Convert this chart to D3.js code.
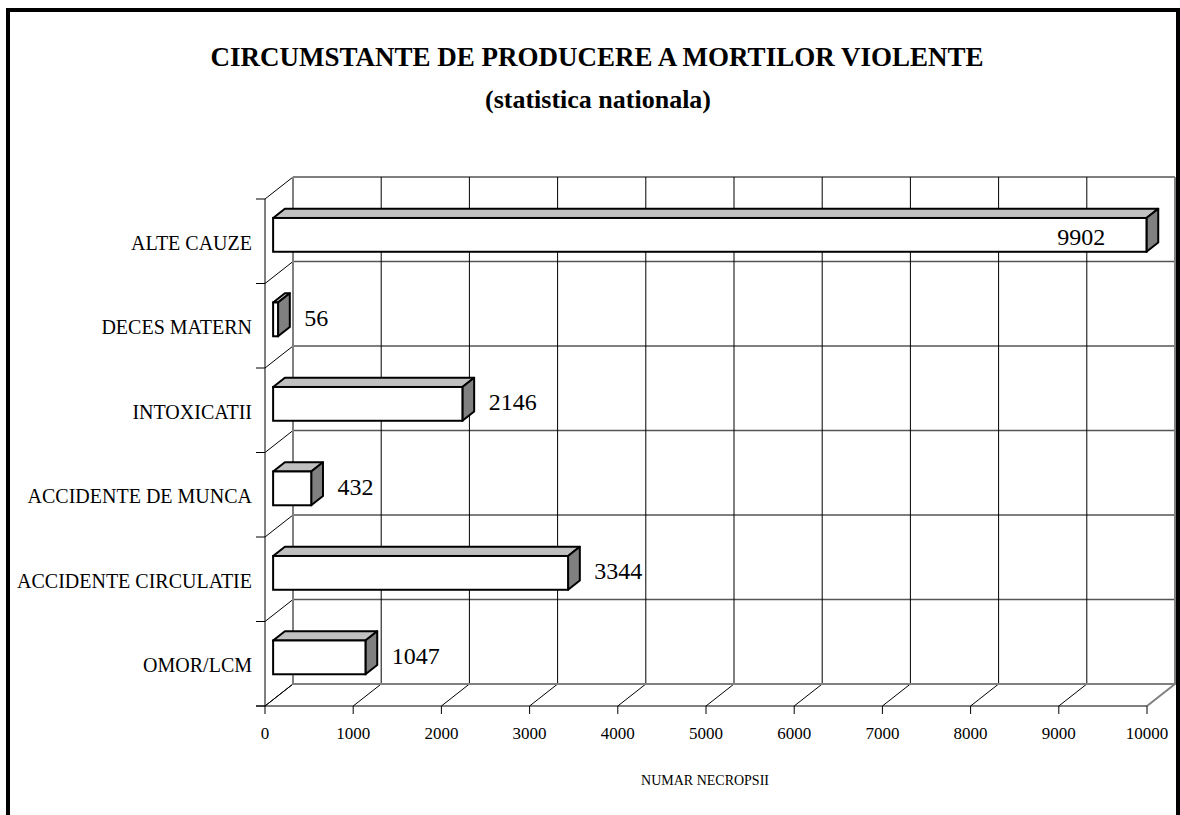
<!DOCTYPE html>
<html>
<head>
<meta charset="utf-8">
<script src="https://cdn.jsdelivr.net/npm/d3@7"></script>
<style>
  body { margin: 0; background: #fff; }
  svg text { font-family: "Liberation Serif", "Times New Roman", "DejaVu Serif", serif; fill: #000; }
</style>
</head>
<body>
<script>
// categories bottom -> top, as in the chart
const categories = ["OMOR/LCM", "ACCIDENTE CIRCULATIE", "ACCIDENTE DE MUNCA", "INTOXICATII", "DECES MATERN", "ALTE CAUZE"];
const values = [1047, 3344, 432, 2146, 56, 9902];
const xTicks = [0, 1000, 2000, 3000, 4000, 5000, 6000, 7000, 8000, 9000, 10000];

const titleText = "CIRCUMSTANTE DE PRODUCERE A MORTILOR VIOLENTE";
const subtitleText = "(statistica nationala)";
const xAxisTitle = "NUMAR NECROPSII";

const serif = "'Liberation Serif', 'Times New Roman', 'DejaVu Serif', serif";

//---- drawing parameters
const W = 1180, H = 815;
const DX = 28, DY = -22;      // 3d depth of the plot box
const f0 = 0.29, f1 = 0.71;   // where the bars sit inside that depth
const barFrac = 0.4;          // bar thickness vs band

const svg = d3.select("body").append("svg")
  .attr("width", W)
  .attr("height", H);

// outer frame
svg.append("rect")
  .attr("x", 8).attr("y", 10)
  .attr("width", 1170).attr("height", 830)
  .attr("fill", "#fff")
  .attr("stroke", "#000")
  .attr("stroke-width", 4);

const x = d3.scaleLinear().domain([0, 10000]).range([265, 1147]);
const y = d3.scaleBand().domain(categories).range([706, 199]).padding(0);

const yBounds = categories.map(c => y(c)).concat([y.range()[0]]); // band edges
const yTop = d3.min(yBounds), yBot = d3.max(yBounds);
const x0 = x(0), x1 = x(10000);

const grid = svg.append("g");

// back wall - horizontal gridlines
grid.selectAll("line.h")
  .data(yBounds)
  .enter().append("line")
    .attr("x1", x0 + DX).attr("x2", x1 + DX)
    .attr("y1", d => d + DY).attr("y2", d => d + DY)
    .attr("stroke", "#555")
    .attr("stroke-width", 1.5);

// back wall - vertical gridlines
grid.selectAll("line.v")
  .data(xTicks.slice(1, -1))
  .enter().append("line")
    .attr("x1", d => x(d) + DX).attr("x2", d => x(d) + DX)
    .attr("y1", yTop + DY).attr("y2", yBot + DY)
    .attr("stroke", "#000")
    .attr("stroke-width", 1);

// left wall diagonals
grid.selectAll("line.ld")
  .data(yBounds)
  .enter().append("line")
    .attr("x1", x0).attr("y1", d => d)
    .attr("x2", x0 + DX).attr("y2", d => d + DY)
    .attr("stroke", "#000")
    .attr("stroke-width", 1);

// floor diagonals
grid.selectAll("line.fd")
  .data(xTicks)
  .enter().append("line")
    .attr("x1", d => x(d)).attr("y1", yBot)
    .attr("x2", d => x(d) + DX).attr("y2", yBot + DY)
    .attr("stroke", d => d === 10000 ? "#808080" : "#000")
    .attr("stroke-width", d => d === 10000 ? 2 : 1);

// back wall outline (gray)
grid.append("path")
  .attr("d", `M${x0 + DX},${yTop + DY}V${yBot + DY}H${x1 + DX}V${yTop + DY}`)
  .attr("fill", "none")
  .attr("stroke", "#808080")
  .attr("stroke-width", 2);

// front axes
grid.append("line")
  .attr("x1", x0).attr("x2", x0).attr("y1", yTop).attr("y2", yBot)
  .attr("stroke", "#000");
grid.append("line")
  .attr("x1", x0 - 9).attr("x2", x1).attr("y1", yBot).attr("y2", yBot)
  .attr("stroke", "#000");

// ticks
grid.selectAll("line.yt")
  .data(yBounds)
  .enter().append("line")
    .attr("x1", x0 - 9).attr("x2", x0)
    .attr("y1", d => d).attr("y2", d => d)
    .attr("stroke", "#000");
grid.selectAll("line.xt")
  .data(xTicks)
  .enter().append("line")
    .attr("x1", d => x(d)).attr("x2", d => x(d))
    .attr("y1", yBot).attr("y2", yBot + 8)
    .attr("stroke", "#000");

// tick labels
svg.selectAll("text.xl")
  .data(xTicks)
  .enter().append("text")
    .attr("x", d => x(d))
    .attr("y", 739)
    .attr("text-anchor", "middle")
    .attr("font-family", serif)
    .style("font-size", "17px")
    .text(d => d);

// category labels
svg.selectAll("text.cl")
  .data(categories)
  .enter().append("text")
    .attr("x", 252)
    .attr("y", d => y(d) + y.bandwidth() / 2 + 8.5)
    .attr("text-anchor", "end")
    .attr("font-family", serif)
    .style("font-size", "20px")
    .text(d => d);

// bars
const data = categories.map((c, i) => ({ cat: c, value: values[i] }));
const bw = y.bandwidth();
const bh = bw * barFrac;
const ddx = (f1 - f0) * DX, ddy = (f1 - f0) * DY;

const bars = svg.selectAll("g.bar")
  .data(data)
  .enter().append("g");

bars.each(function(d) {
  const g = d3.select(this);
  const bx0 = x(0) + f0 * DX;
  const bx1 = x(d.value) + f0 * DX;
  const by0 = y(d.cat) + (bw - bh) / 2 + f0 * DY;
  const by1 = by0 + bh;
  // top face
  g.append("path")
    .attr("d", `M${bx0},${by0}L${bx0 + ddx},${by0 + ddy}L${bx1 + ddx},${by0 + ddy}L${bx1},${by0}Z`)
    .attr("fill", "#c0c0c0").attr("stroke", "#000").attr("stroke-width", 2).attr("stroke-linejoin", "round");
  // side face
  g.append("path")
    .attr("d", `M${bx1},${by0}L${bx1 + ddx},${by0 + ddy}L${bx1 + ddx},${by1 + ddy}L${bx1},${by1}Z`)
    .attr("fill", "#808080").attr("stroke", "#000").attr("stroke-width", 2).attr("stroke-linejoin", "round");
  // front face
  g.append("rect")
    .attr("x", bx0).attr("y", by0)
    .attr("width", bx1 - bx0).attr("height", bh)
    .attr("fill", "#fff").attr("stroke", "#000").attr("stroke-width", 2);
});

// value labels - right of the bar, or inside it when there is no room
const inside = d => x(d.value) + f1 * DX + 74.5 > x1 + DX;
svg.selectAll("text.vl")
  .data(data)
  .enter().append("text")
    .attr("x", d => inside(d) ? x(d.value) - 33 : x(d.value) + f1 * DX + 14.5)
    .attr("y", d => y(d.cat) + bw / 2 + (inside(d) ? 4 : 0))
    .attr("text-anchor", d => inside(d) ? "end" : "start")
    .attr("font-family", serif)
    .style("font-size", "24px")
    .text(d => d.value);

// titles
svg.append("text")
  .attr("x", 597).attr("y", 66)
  .attr("text-anchor", "middle")
  .attr("font-family", serif)
  .style("font-size", "27px").style("font-weight", "bold")
  .text(titleText);
svg.append("text")
  .attr("x", 598).attr("y", 108)
  .attr("text-anchor", "middle")
  .attr("font-family", serif)
  .style("font-size", "26px").style("font-weight", "bold")
  .text(subtitleText);

svg.append("text")
  .attr("x", 705).attr("y", 785)
  .attr("text-anchor", "middle")
  .attr("font-family", serif)
  .style("font-size", "14px")
  .text(xAxisTitle);
</script>
</body>
</html>
